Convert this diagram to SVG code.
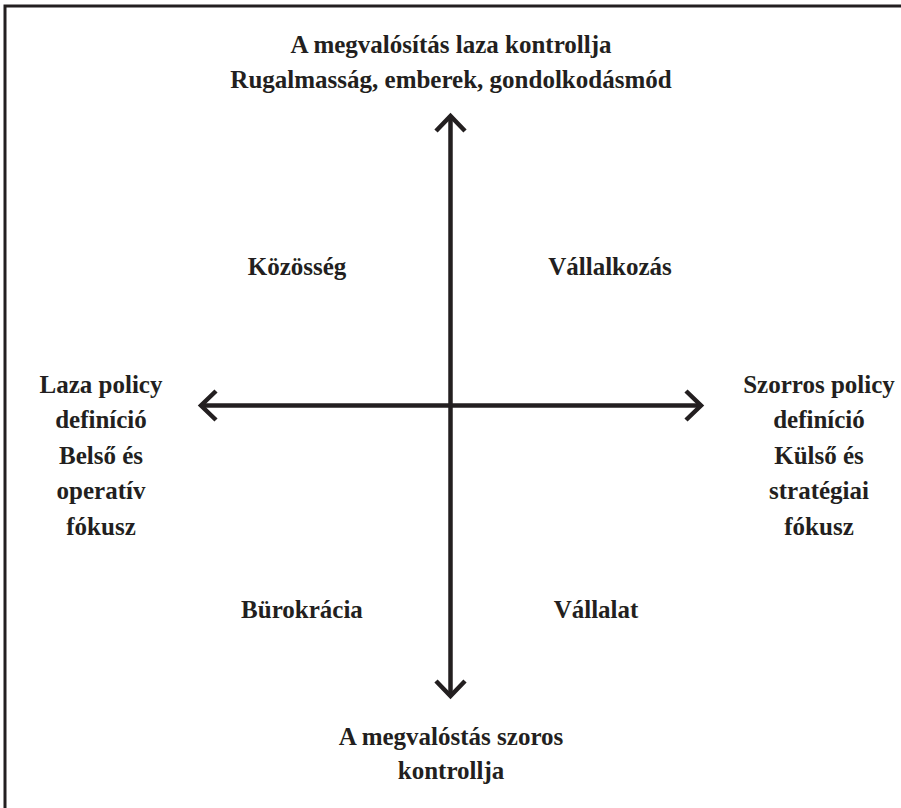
<svg xmlns="http://www.w3.org/2000/svg" width="901" height="808" viewBox="0 0 901 808">
<style>
  text { font-family: "Liberation Serif", "Times New Roman", serif; font-weight: bold; font-size: 25px; fill: #231f20; text-anchor: middle; }
  .ax { stroke: #231f20; stroke-width: 4.5; fill: none; }
  .head { stroke: #231f20; stroke-width: 4.5; fill: none; stroke-linejoin: miter; }
</style>
<rect width="901" height="808" fill="#ffffff"/>
<path d="M5,808 V6 H901" fill="none" stroke="#231f20" stroke-width="3"/>
<g id="connectors">
  <line class="ax" x1="450.5" y1="117" x2="450.5" y2="695"/>
  <line class="ax" x1="202" y1="405.5" x2="699" y2="405.5"/>
  <polyline class="head" points="436,131 450.5,116 465,131"/>
  <polyline class="head" points="436,681 450.5,696 465,681"/>
  <polyline class="head" points="216,391 201,405.5 216,420"/>
  <polyline class="head" points="686,391 701,405.5 686,420"/>
</g>
<g id="top-label">
  <text x="451" y="53">A megvalósítás laza kontrollja</text>
  <text x="451" y="88">Rugalmasság, emberek, gondolkodásmód</text>
</g>
<g id="bottom-label">
  <text x="451" y="745">A megvalóstás szoros</text>
  <text x="451" y="779">kontrollja</text>
</g>
<g id="left-label">
  <text x="101" y="393">Laza policy</text>
  <text x="101" y="428">definíció</text>
  <text x="101" y="464">Belső és</text>
  <text x="101" y="499">operatív</text>
  <text x="101" y="535">fókusz</text>
</g>
<g id="right-label">
  <text x="819" y="393">Szorros policy</text>
  <text x="819" y="428">definíció</text>
  <text x="819" y="464">Külső és</text>
  <text x="819" y="499">stratégiai</text>
  <text x="819" y="535">fókusz</text>
</g>
<g id="q-kozosseg"><text x="297" y="275">Közösség</text></g>
<g id="q-vallalkozas"><text x="610" y="275">Vállalkozás</text></g>
<g id="q-burokracia"><text x="302" y="618">Bürokrácia</text></g>
<g id="q-vallalat"><text x="596" y="618">Vállalat</text></g>
</svg>
